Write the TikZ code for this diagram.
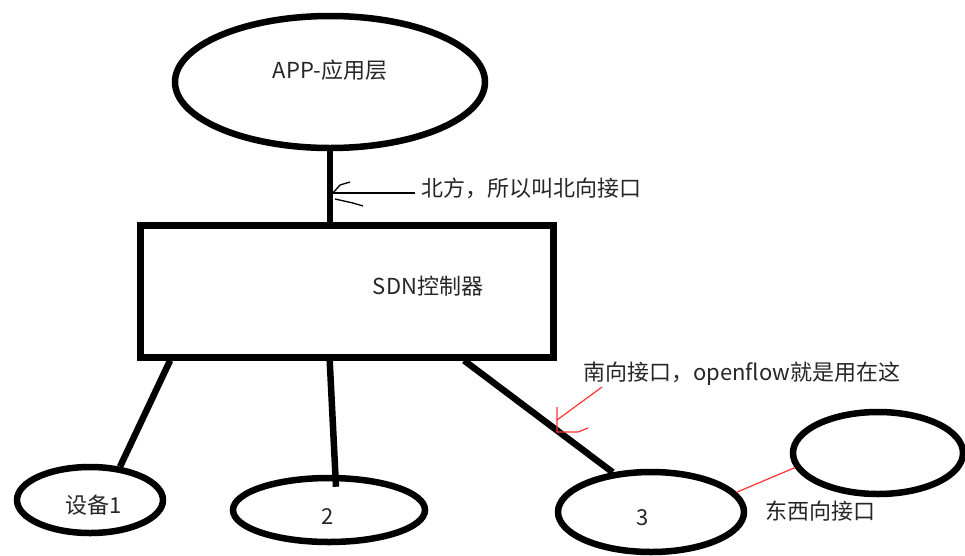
\documentclass[tikz,border=0pt]{standalone}
\usepackage{fontspec}
\setmainfont{Noto Sans CJK SC}
\usetikzlibrary{shapes.geometric,calc}
\begin{document}
\begin{tikzpicture}[x=1pt,y=-1pt,
  bold/.style={line width=6.5pt},
  blob/.style={draw, ellipse, line width=6.5pt, inner sep=0pt},
  box/.style={draw, rectangle, line width=7pt, inner sep=0pt},
  lbl/.style={font=\fontsize{22}{26}\selectfont, text=black!85, inner sep=0pt},
  redline/.style={draw=red!80!white, line width=1.2pt},
  fine/.style={line width=1.3pt}]
\useasboundingbox (0,0) rectangle (965,555);
\fill[white] (0,0) rectangle (965,555);

% application layer and controller
\node[blob, minimum width=310pt, minimum height=132pt] (app) at (330,82) {};
\node[lbl] (applbl) at (330,70) {APP-应用层};
\node[box, minimum width=413pt, minimum height=132pt] (ctrl) at (346.5,291) {};
\node[lbl] (ctrllbl) at (428,286) {SDN控制器};

% devices
\node[blob, minimum width=146pt, minimum height=66pt] (e1) at (90,500) {};
\node[lbl] (e1lbl) at (94,505) {设备1};
\node[blob, minimum width=192pt, minimum height=64pt] (e2) at (329,510) {};
\node[lbl] (e2lbl) at (328,517) {2};
\node[blob, minimum width=186pt, minimum height=80pt] (e3) at (651,512) {};
\node[lbl] (e3lbl) at (643,518) {3};
\node[blob, minimum width=170pt, minimum height=82pt] (e4) at (878,453) {};

% links
\draw[bold] (app.south) -- (app.south |- ctrl.north);
\draw[bold] ($(ctrl.south west)!0.08!(ctrl.south east)$) -- (e1.48);
\draw[bold] ($(ctrl.south west)!0.46!(ctrl.south east)$) -- ($(e2.north)+(7,12)$);
\draw[bold] ($(ctrl.south west)!0.78!(ctrl.south east)$) -- (e3.134);
\draw[redline] (e3.13) -- (e4.190);

% northbound note
\node[lbl, anchor=west] (ntext) at (421,188) {北方，所以叫北向接口};
\coordinate (nmid) at (368,193);
\coordinate (ntip) at (333,193);
\draw[line width=2pt] ($(ntext.west)+(-6,5)$) -- (nmid);
\draw[fine] (nmid) -- (ntip);
\draw[fine] (ntip) -- (340,185) -- (350,182);
\draw[fine] (335,199) -- (353,203) -- (363,206);

% southbound note
\node[lbl, anchor=west] (stext) at (583,374) {南向接口，openflow就是用在这};
\coordinate (stip) at (557,420);
\draw[redline] (602,387) -- (stip);
\draw[redline] (557,407) -- (557,432) -- (578,432) -- (588,428);

% east-west note
\node[lbl] (ewtext) at (820,511) {东西向接口};
\end{tikzpicture}
\end{document}
